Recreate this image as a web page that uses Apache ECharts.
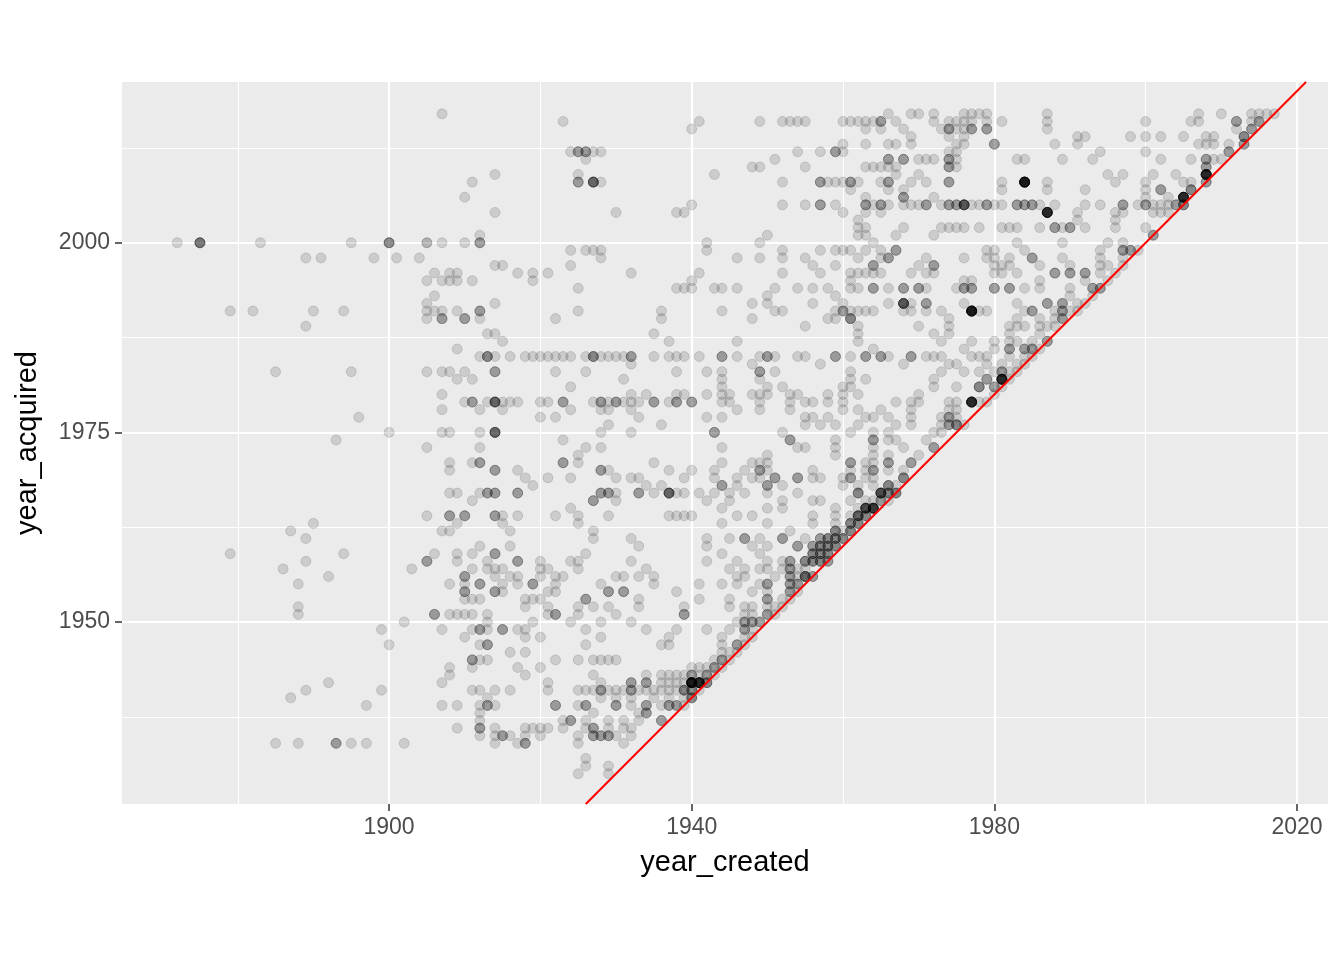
<!DOCTYPE html>
<html>
<head>
<meta charset="utf-8">
<script src="https://cdn.jsdelivr.net/npm/echarts@6/dist/echarts.min.js"></script>
<style>
html, body { margin: 0; background: #fff; }
#chart { width: 1344px; height: 960px; }
</style>
</head>
<body>
<div id="chart"></div>
<script>
// one row per acquisition year; [year, n] means n artworks share that spot
var acquiredYears = [2017,2016,2015,2014,2013,2012,2011,2010,2009,2008,2007,2006,2005,2004,2003,2002,2001,2000,
  1999,1998,1997,1996,1995,1994,1993,1992,1991,1990,1989,1988,1987,1986,1985,1984,1983,1982,1981,1980,
  1979,1978,1977,1976,1975,1974,1973,1972,1971,1970,1969,1968,1967,1966,1965,1964,1963,1962,1961,1960,
  1959,1958,1957,1956,1955,1954,1953,1952,1951,1950,1949,1948,1947,1946,1945,1944,1943,1942,1941,1940,
  1939,1938,1937,1936,1935,1934,1932,1931,1930];

var createdYears = [
  [1907,1966,1969,1970,1972,1976,1977,1978,1979,1987,2007,2010,2014,2015,2016,2017],
  [1923,1941,1949,1952,1953,1954,1955,1960,1961,1962,1963,1964,[1965,3],1967,1972,1974,1975,1976,1977,1979,1981,1987,2000,2006,2007,[2012,3],2014,[2015,3]],
  [1940,1963,1965,1968,1973,[1974,3],1975,1976,[1977,3],[1979,3],1987,2012,[2014,3]],
  [1969,1974,1976,1991,1992,1998,2000,2002,2005,2008,2009,[2013,4]],
  [1960,1963,1966,1967,1969,1975,1976,[1980,3],1988,1991,2007,2008,2009,2011,[2013,3]],
  [1924,[1925,3],[1926,3],1927,1928,1954,1957,[1959,3],1960,1974,1975,1994,2000,[2011,3]],
  [1926,1951,[1966,3],[1968,3],1970,1971,1972,[1974,3],1975,1983,1984,1989,1993,2002,2006,[2008,3],2009,2010],
  [1948,1949,1955,1963,1964,1965,1966,1967,[1974,3],1975,[2008,3]],
  [1914,1925,1943,1967,1970,1995,1997,2001,2004,[2008,12]],
  [1911,[1925,3],[1927,6],1928,1952,[1957,3],1958,1959,1960,[1961,3],1962,1965,[1966,3],1969,1971,[1974,3],1981,[1984,15],1987,1996,2000,2005,2006,[2008,3]],
  [1961,1966,1968,1981,1987,1992,2000,[2002,3],[2006,4]],
  [1910,1963,[1968,3],1972,2000,2003,[2005,12]],
  [1940,1952,1955,[1957,3],1959,[1963,3],1964,[1965,3],1966,1968,1969,1970,[1971,3],1973,[1974,3],[1975,3],[1976,7],1977,1978,[1979,3],1980,1981,[1983,3],[1984,3],[1985,3],1986,1988,1992,1994,[1997,3],1999,[2000,3],2001,2002,2003,[2004,3],[2005,4]],
  [1914,1930,1938,1939,1960,1963,1965,[1987,12],1991,1996,1997,2001,2002,2003],
  [1962,1991,1996],
  [1962,1963,1968,1973,1974,1975,1976,1978,1981,1982,1983,1986,[1988,3],1989,[1990,3],1992,1996,2000],
  [1912,1950,1962,1963,1967,1972,[2001,3]],
  [1872,[1875,5],1883,1895,[1900,4],[1905,2],1907,1910,[1912,3],1942,1949,1964,1983,1989,1995,1997],
  [1924,1926,1927,1928,1942,1952,1957,1959,1960,1961,1963,1965,[1967,3],1979,1980,1984,1994,[1997,3],[1998,3],1999],
  [1889,1891,1898,1901,1904,1928,1946,1949,1952,1955,1962,1965,[1966,3],1971,1976,1979,1980,1982,[1985,3],1989,1994,1997],
  [1914,1915,1924,1956,1959,[1964,3],1970,[1972,3],1980,1981,1982,1986,1990,1994,1995,1997],
  [1906,1908,1909,1917,1919,1921,1932,1941,1952,1957,1961,1962,1963,1964,1965,1969,1971,1972,1980,1981,1983,[1988,3],[1990,3],[1992,3],1994,1996],
  [1905,1907,1908,1909,1911,1919,1940,1961,1976,1977,1986,1992,1995],
  [1925,1938,1939,1940,1943,1944,1946,1951,1954,1956,1958,1961,1962,[1964,3],1966,[1968,3],[1970,3],1971,1975,[1976,3],[1977,3],[1980,3],[1982,3],1984,1986,1990,[1993,3],[1994,3]],
  [1906,1950,1959,1990,1993],
  [1905,1914,1948,1950,1956,1960,1966,[1968,7],1969,[1971,3],1976,1983,[1987,3],[1989,3],1991,1992],
  [1879,1882,1890,1894,1905,1906,1907,1909,[1912,3],1925,1936,1944,1951,1952,1959,[1960,3],1961,1962,1963,1964,1968,1969,1971,1973,[1977,15],1978,1979,1984,[1985,3],1988,[1989,3],1990,1991],
  [1905,[1907,3],[1910,3],1912,1922,1936,1948,1958,1959,[1961,4],1974,1983,1986,1988,[1989,3]],
  [1889,1955,1962,1970,1974,1982,1983,1984,1986,1987,1988],
  [1913,1914,1935,1962,1972,1974,1982,1986],
  [1915,1937,1946,1962,1973,1977,1980,1982,1983,1985,[1987,3]],
  [1909,1964,1976,1980,[1982,3],[1984,3],[1985,3],1986],
  [1912,[1913,4],1914,1916,1918,1919,1920,1921,1922,1923,1924,1926,[1927,4],1928,1929,1930,1931,[1932,3],1935,1937,1938,1939,1941,[1944,3],1946,1949,[1950,3],1951,1954,1955,[1959,3],1961,[1963,3],[1965,3],1966,[1969,3],1971,1972,1973,1977,1978,1979,1982,1984,1985],
  [1932,1948,1957,1968,1974,1975,1979,1981,1983,1984],
  [1885,1895,1905,1907,1908,1910,[1914,3],1922,1926,1938,1942,1944,[1949,3],1951,1961,1973,1976,1978,1980,[1981,3],1982,1983],
  [1909,1911,1931,1944,1949,1961,1963,1972,[1979,3],[1981,12],1982],
  [1924,1944,1950,1952,1960,1961,1972,1975,[1978,4],[1980,3],1981],
  [1907,1932,1934,1938,1939,1942,1944,1945,1948,1949,1950,1953,1954,1958,1960,1962,1970,1980],
  [1910,[1911,3],1913,[1914,6],1915,1916,1917,1920,1921,[1923,3],1927,[1928,3],1929,[1930,3],1931,1932,1933,[1935,3],1937,[1938,3],[1940,3],1944,1945,1949,1953,1955,1956,1958,1960,1967,1969,1970,1974,1975,[1977,12],1978,1979],
  [1907,1912,1915,1924,1928,1929,1932,1946,1949,1953,1960,1962,1965,1969,1974,1975],
  [1896,1920,1922,1933,1942,1944,1955,1956,1958,1963,1964,1966,1969,1973,[1974,3],1975],
  [1929,1936,1955,1957,1959,1962,1967,1969,1973,[1974,3],[1975,4],1976],
  [1900,1907,1908,1912,[1914,6],1928,1932,[1943,3],1952,1961,1964,1966,1972,1973],
  [1893,1923,[1953,3],1959,[1964,3],1966,1967,1971],
  [1905,1912,1926,1928,1944,1954,1955,1959,1964,1968,[1972,3]],
  [1925,1950,1959,1964,1966,1970],
  [1908,1911,[1912,3],[1923,3],1925,1935,1944,1948,1949,1950,[1961,3],1963,1964,[1966,3],[1969,3]],
  [1908,[1914,3],1917,[1928,3],1929,1937,1940,1943,1947,[1949,3],1950,1956,1961,1963,[1964,3],1966,1968],
  [1918,1921,1924,1930,1932,1933,1939,1943,1946,1948,1949,[1951,3],[1954,3],1956,1957,1960,[1961,3],1963,1964,[1968,4]],
  [1919,1934,1936,[1944,3],1946,[1950,3],1952,1960,1962,1964,[1966,4],1967],
  [1908,1909,1912,[1913,3],[1914,3],[1917,3],[1928,3],[1929,3],1930,[1933,3],1935,[1937,6],1938,1939,1941,1943,1945,1947,1950,1954,[1962,4],[1965,8],[1966,4],[1967,4]],
  [1911,[1927,3],1930,1942,1945,1952,1956,1957,1961,1963,1964,[1965,3],1966],
  [1924,1944,1950,1952,1959,1962,[1963,8],[1964,10]],
  [1905,[1908,3],[1910,3],[1914,3],1915,1917,1922,1925,1929,1937,1938,1939,1940,1946,1948,1956,1959,1961,[1962,6],[1963,4]],
  [1890,1909,1915,1925,1944,1950,1956,1959,[1961,4],[1962,4]],
  [1887,1907,1908,1916,1927,1953,[1959,4],1960,[1961,4]],
  [1889,1927,1932,1942,1945,[1947,3],1949,[1952,3],1955,[1957,3],[1958,4],[1959,4],[1960,4]],
  [1912,1916,1933,1942,1948,1950,[1954,3],[1956,3],[1957,4],[1958,4],[1959,4]],
  [1879,1894,1906,1909,1911,[1914,3],1926,1944,1949,[1956,4],[1957,4],[1958,4]],
  [1889,[1905,3],1909,1913,[1917,3],1920,1924,1925,1932,1942,1946,1950,1952,[1953,3],[1955,4],[1956,4],[1957,4],[1958,3]],
  [1886,1903,1911,1913,1914,1915,1920,1921,1925,1934,1945,1947,1949,1950,1952,[1953,3],1954,1955],
  [1892,[1910,3],1914,1916,1917,1920,1922,1923,1930,1931,1933,1935,1946,1947,1951,[1953,3],1954,[1955,6],[1956,3]],
  [1888,1908,1910,[1912,3],1915,1917,[1919,3],1922,1928,1935,1941,1944,1946,1949,[1950,3],[1953,3],[1954,3]],
  [[1910,3],[1914,3],1915,1921,1922,[1929,3],[1931,3],1938,1948,1950,[1953,3],1954],
  [1910,1911,1912,1918,1919,1920,[1926,3],1933,1941,1945,[1950,3],1952,1953],
  [1888,1918,1921,1925,1927,1929,1933,1939,1945,1947,1948,1950,1951,1952],
  [1888,[1906,3],1908,1909,1910,1911,1913,1921,[1922,3],1925,1930,[1939,3],1947,1948,[1950,3],1951],
  [1902,1913,1919,1924,1928,1932,1946,[1947,3],[1948,3],[1949,3]],
  [1899,1907,1911,[1912,3],1913,[1915,3],1917,1918,1926,1934,1938,1942,1945,[1947,3],1948],
  [1910,1918,1920,1928,1937,1944,1947,1948],
  [1900,1912,[1913,3],1926,1936,1937,1944,[1946,3],1947],
  [1916,1918,1944,1945,1946],
  [[1911,3],1912,1913,1922,1925,1927,1928,1929,1930,1943,[1944,3],1945],
  [1908,1911,1917,1920,1940,1941,1942,[1943,3],1944],
  [1908,1918,1927,1934,1936,1937,1938,1939,[1940,3],1941,[1942,3],1943],
  [1892,1907,1921,1928,[1932,3],[1934,3],1936,1937,1938,1939,[1940,15],[1941,12],[1942,4]],
  [1889,1899,1911,1912,1914,1916,1921,1925,1926,1927,[1928,3],1929,1930,1931,[1932,3],1933,1934,1935,1936,1937,1938,[1939,4],[1940,4],1941],
  [1887,1913,1928,1930,1932,1935,1937,1939,[1940,4]],
  [1897,1907,1909,1912,[1913,3],1914,[1922,3],1925,[1926,3],[1930,3],1932,[1934,3],1936,[1937,3],[1938,3],1939],
  [1912,1927,1933,[1934,3]],
  [1912,1923,[1924,3],1926,1929,1931,1933,[1936,3]],
  [1909,[1912,3],1914,1918,1919,1920,1921,1923,1926,[1927,3],1929,1931,1932],
  [1912,1914,[1915,3],1916,1918,1920,1925,[1927,3],[1928,3],[1929,3],1930,1932],
  [1885,1888,[1893,3],1895,1897,1902,1914,1917,[1918,3],1925,1931],
  [1926],
  [1926,1929],
  [1925,1929]
];

var xTicks = [1900, 1940, 1980, 2020];
var xMinor = [1880, 1920, 1960, 2000];
var yTicks = [1950, 1975, 2000];
var yMinor = [1937.5, 1962.5, 1987.5, 2012.5];
var xRange = [1864.7, 2024.1];
var yRange = [1926.0, 2021.2];

var points = [];
acquiredYears.forEach(function (acq, i) {
    createdYears[i].forEach(function (c) {
        var yr = Array.isArray(c) ? c[0] : c;
        var n = Array.isArray(c) ? c[1] : 1;
        for (var k = 0; k < n; k++) {
            points.push([yr, acq]);
        }
    });
});

var font = '"Liberation Sans", Arial, Helvetica, sans-serif';
var plainYear = function (v) { return String(v); };

var dom = document.getElementById('chart');
var myChart = echarts.init(dom);

var option = {
    animation: false,
    backgroundColor: '#fff',
    grid: {
        left: 122, right: 16, top: 82, bottom: 156,
        show: true, backgroundColor: '#EBEBEB', borderWidth: 0
    },
    xAxis: [{
        type: 'value', min: xRange[0], max: xRange[1],
        name: 'year_created', nameLocation: 'middle', nameGap: 44,
        nameTextStyle: { fontSize: 29, color: '#000', fontFamily: font },
        axisLine: { show: false },
        axisTick: { show: true, customValues: xTicks, length: 7, lineStyle: { color: '#333', width: 1.5 } },
        axisLabel: { customValues: xTicks, formatter: plainYear, color: '#4D4D4D', fontSize: 23, margin: 12, fontFamily: font },
        splitLine: { show: true, lineStyle: { color: '#fff', width: 2.2 } }
    }, {
        type: 'value', min: xRange[0], max: xRange[1], position: 'top',
        axisLine: { show: false },
        axisTick: { show: false, customValues: xMinor },
        axisLabel: { show: false, customValues: xMinor },
        splitLine: { show: true, lineStyle: { color: '#fff', width: 1.1 } }
    }],
    yAxis: [{
        type: 'value', min: yRange[0], max: yRange[1],
        name: 'year_acquired', nameLocation: 'middle', nameGap: 80,
        nameTextStyle: { fontSize: 29, color: '#000', fontFamily: font },
        axisLine: { show: false },
        axisTick: { show: true, customValues: yTicks, length: 7, lineStyle: { color: '#333', width: 1.5 } },
        axisLabel: { customValues: yTicks, formatter: plainYear, color: '#4D4D4D', fontSize: 23, margin: 12, fontFamily: font },
        splitLine: { show: true, lineStyle: { color: '#fff', width: 2.2 } }
    }, {
        type: 'value', min: yRange[0], max: yRange[1], position: 'right',
        axisLine: { show: false },
        axisTick: { show: false, customValues: yMinor },
        axisLabel: { show: false, customValues: yMinor },
        splitLine: { show: true, lineStyle: { color: '#fff', width: 1.1 } }
    }],
    series: [{
        type: 'scatter',
        xAxisIndex: 0, yAxisIndex: 0,
        data: points,
        symbolSize: 10,
        progressive: 0,
        silent: true,
        itemStyle: { color: '#000', borderColor: '#000', borderWidth: 1, opacity: 0.13 }
    }, {
        // abline(0, 1): acquired == created
        type: 'line',
        xAxisIndex: 0, yAxisIndex: 0,
        data: [[yRange[0], yRange[0]], [yRange[1], yRange[1]]],
        symbol: 'none',
        silent: true,
        z: 5,
        lineStyle: { color: '#FF0000', width: 2 }
    }]
};

myChart.setOption(option);
</script>
</body>
</html>
